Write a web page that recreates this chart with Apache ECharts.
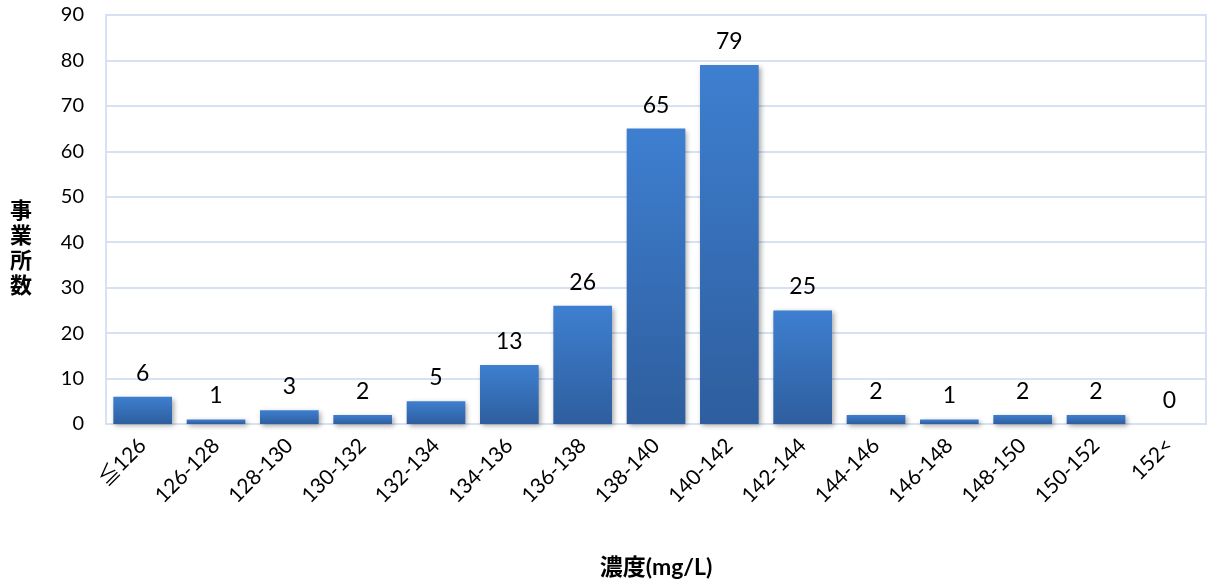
<!DOCTYPE html>
<html>
<head>
<meta charset="utf-8">
<script src="https://cdn.jsdelivr.net/npm/echarts@6/dist/echarts.min.js"></script>
<style>
  html, body { margin: 0; padding: 0; background: #fff; }
  #chart { width: 1210px; height: 586px; }
</style>
</head>
<body>
<div id="chart"></div>
<script>
// Concentration bins (mg/L) and number of facilities in each bin
const categories = ['≦126', '126-128', '128-130', '130-132', '132-134', '134-136', '136-138',
  '138-140', '140-142', '142-144', '144-146', '146-148', '148-150', '150-152', '152<'];
const counts = [6, 1, 3, 2, 5, 13, 26, 65, 79, 25, 2, 1, 2, 2, 0];
const yTicks = { min: 0, max: 90, interval: 10 };
const yTitle = '事業所数';
const xTitle = '濃度(mg/L)';

const FONT = 'Lato, "Noto Sans CJK JP", sans-serif';
const GRID_COLOR = '#d6e1f1';

const chart = echarts.init(document.getElementById('chart'), null, { renderer: 'canvas' });

chart.setOption({
  animation: false,
  backgroundColor: '#ffffff',
  grid: {
    left: 106, right: 4, top: 15, bottom: 162,
    show: true, borderColor: GRID_COLOR, borderWidth: 2, backgroundColor: 'transparent'
  },
  // vertical y-axis title, one character per line
  graphic: [{
    type: 'text',
    left: 10,
    top: 197,
    style: {
      text: yTitle.split('').join('\n'),
      font: 'bold 22px "Noto Sans CJK JP", sans-serif',
      lineHeight: 25,
      fill: '#000',
      align: 'left'
    }
  }],
  xAxis: {
    type: 'category',
    data: categories,
    name: xTitle,
    nameLocation: 'middle',
    nameGap: 132,
    nameTextStyle: { fontFamily: FONT, fontSize: 23, fontWeight: 'bold', color: '#000' },
    axisLine: { show: true, lineStyle: { color: GRID_COLOR, width: 2 } },
    axisTick: { show: false },
    axisLabel: {
      interval: 0, rotate: 45, margin: 18,
      fontFamily: FONT, fontSize: 21, color: '#000'
    }
  },
  yAxis: {
    type: 'value',
    min: yTicks.min, max: yTicks.max, interval: yTicks.interval,
    axisLine: { show: false },
    axisTick: { show: false },
    axisLabel: { margin: 22, fontFamily: FONT, fontSize: 20, color: '#000' },
    splitLine: { show: true, lineStyle: { color: GRID_COLOR, width: 2 } }
  },
  series: [{
    type: 'bar',
    data: counts,
    barWidth: '80%',
    itemStyle: {
      color: new echarts.graphic.LinearGradient(0, 0, 0, 1, [
        { offset: 0, color: '#3e7fd0' },
        { offset: 1, color: '#2e5e9e' }
      ], false),
      shadowColor: 'rgba(0,0,0,0.35)',
      shadowBlur: 5,
      shadowOffsetX: 2,
      shadowOffsetY: 2
    },
    label: {
      show: true, position: 'top', distance: 12,
      fontFamily: FONT, fontSize: 23, color: '#000'
    }
  }]
});
</script>
</body>
</html>
